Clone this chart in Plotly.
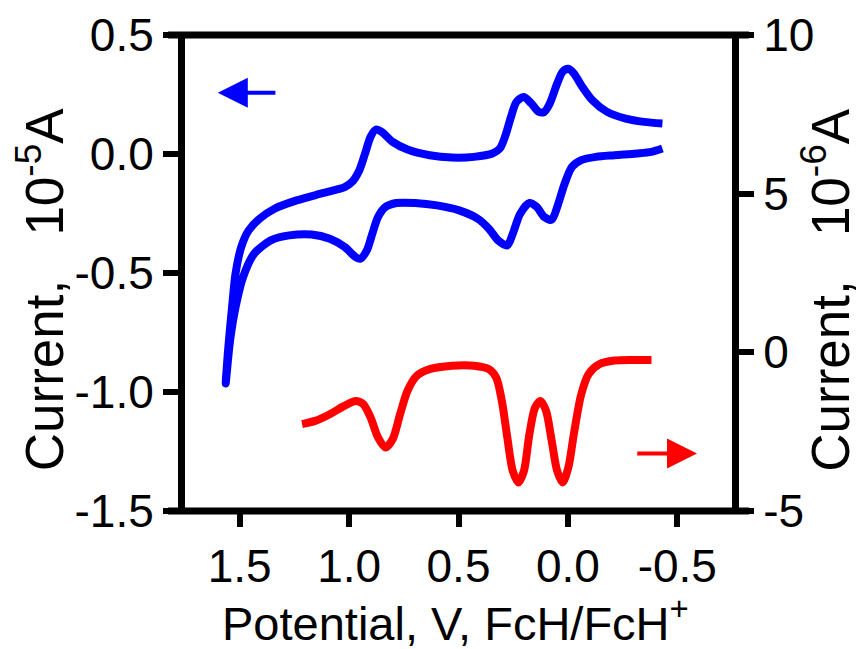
import plotly.graph_objects as go

# Blue cyclic voltammogram (left axis, 10^-5 A)
cv_potential = [-0.432, -0.348, -0.264, -0.179, -0.112, -0.061, -0.027, -0.002, 0.024, 0.049,
                0.083, 0.108, 0.133, 0.167, 0.201, 0.235, 0.260, 0.285, 0.311, 0.345,
                0.429, 0.530, 0.632, 0.733, 0.801, 0.851, 0.877, 0.902, 0.927, 0.953,
                0.987, 1.020, 1.071, 1.139, 1.240, 1.341, 1.409, 1.459, 1.493, 1.519,
                1.535, 1.552, 1.564,
                1.544, 1.519, 1.485, 1.434, 1.358, 1.274, 1.172, 1.088, 1.020, 0.970,
                0.949, 0.919, 0.894, 0.868, 0.834, 0.784, 0.699, 0.598, 0.497, 0.412,
                0.361, 0.319, 0.277, 0.252, 0.218, 0.176, 0.142, 0.108, 0.074, 0.049,
                0.015, -0.019, -0.061, -0.128, -0.213, -0.314, -0.382, -0.432]
cv_current = [0.128, 0.135, 0.149, 0.177, 0.226, 0.289, 0.339, 0.358, 0.346, 0.296,
              0.212, 0.177, 0.177, 0.212, 0.240, 0.219, 0.156, 0.079, 0.023, 0.002,
              -0.012, -0.015, -0.005, 0.019, 0.051, 0.093, 0.103, 0.072, 0.002, -0.068,
              -0.118, -0.139, -0.153, -0.169, -0.195, -0.230, -0.272, -0.321, -0.391, -0.503,
              -0.644, -0.812, -0.964,
              -0.784, -0.644, -0.518, -0.419, -0.363, -0.342, -0.338, -0.356, -0.391, -0.433,
              -0.440, -0.405, -0.335, -0.265, -0.223, -0.206, -0.206, -0.216, -0.237, -0.272,
              -0.314, -0.363, -0.384, -0.335, -0.251, -0.206, -0.223, -0.265, -0.276, -0.223,
              -0.125, -0.054, -0.026, -0.012, -0.005, 0.002, 0.009, 0.023]

# Red differential pulse voltammogram (right axis, 10^-6 A)
dpv_potential = [1.215, 1.155, 1.088, 1.020, 0.970, 0.936, 0.902, 0.868, 0.834, 0.801,
                 0.767, 0.733, 0.691, 0.632, 0.530, 0.429, 0.361, 0.328, 0.302, 0.277,
                 0.252, 0.226, 0.201, 0.176, 0.150, 0.125, 0.100, 0.074, 0.049, 0.024,
                 -0.002, -0.027, -0.061, -0.095, -0.145, -0.213, -0.297, -0.382]
dpv_current = [-2.26, -2.16, -1.95, -1.68, -1.53, -1.63, -2.05, -2.68, -3.00, -2.74,
               -1.95, -1.21, -0.74, -0.53, -0.42, -0.42, -0.53, -0.79, -1.53, -2.68,
               -3.74, -4.10, -3.74, -2.58, -1.74, -1.53, -1.84, -2.79, -3.74, -4.10,
               -3.63, -2.58, -1.32, -0.68, -0.37, -0.26, -0.24, -0.24]

x_ticks = [1.5, 1.0, 0.5, 0.0, -0.5]
x_tick_text = ["1.5", "1.0", "0.5", "0.0", "-0.5"]
y_left_ticks = [0.5, 0.0, -0.5, -1.0, -1.5]
y_left_text = ["0.5", "0.0", "-0.5", "-1.0", "-1.5"]
y_right_ticks = [10, 5, 0, -5]
y_right_text = ["10", "5", "0", "-5"]

x_range = [1.75, -0.75]
y_left_range = [-1.5, 0.5]
y_right_range = [-5, 10]

x_title = "Potential, V, FcH/FcH<sup>+</sup>"
y_left_title = "Current,   10<sup>-5</sup>A"
y_right_title = "Current,   10<sup>-6</sup>A"

FONT = "Arial, Liberation Sans, Helvetica, sans-serif"
TICK_SIZE = 46
X_TITLE_SIZE = 47
Y_TITLE_SIZE = 53

fig = go.Figure()
fig.add_trace(go.Scatter(x=cv_potential, y=cv_current, mode="lines",
                         line=dict(color="#0000FF", width=8, shape="spline", smoothing=0.8),
                         yaxis="y", showlegend=False))
fig.add_trace(go.Scatter(x=dpv_potential, y=dpv_current, mode="lines",
                         line=dict(color="#FF0000", width=8, shape="spline", smoothing=0.8),
                         yaxis="y2", showlegend=False))

axis_common = dict(showgrid=False, zeroline=False, ticks="outside", ticklen=15,
                   tickwidth=6, tickcolor="black", linecolor="black", linewidth=7,
                   automargin=False,
                   tickfont=dict(family=FONT, size=TICK_SIZE, color="black"))

fig.update_layout(
    width=861, height=649,
    margin=dict(l=185, r=129, t=35, b=138),
    paper_bgcolor="white", plot_bgcolor="white",
    xaxis=dict(range=x_range, tickvals=x_ticks, ticktext=x_tick_text, showline=False,
               **axis_common),
    yaxis=dict(range=y_left_range, tickvals=y_left_ticks, ticktext=y_left_text, showline=True,
               **axis_common),
    yaxis2=dict(range=y_right_range, tickvals=y_right_ticks, ticktext=y_right_text,
                overlaying="y", side="right", showline=True,
                **axis_common),
)

fig.add_annotation(text=x_title, xref="paper", yref="paper", x=0.495, y=-0.228,
                   xanchor="center", yanchor="middle", showarrow=False,
                   font=dict(family=FONT, size=X_TITLE_SIZE, color="black"))
fig.add_annotation(text=y_left_title, xref="paper", yref="paper", x=-0.264, y=0.465,
                   xanchor="center", yanchor="middle", showarrow=False,
                   font=dict(family=FONT, size=Y_TITLE_SIZE, color="black"), textangle=-90)
fig.add_annotation(text=y_right_title, xref="paper", yref="paper", x=1.172, y=0.465,
                   xanchor="center", yanchor="middle", showarrow=False,
                   font=dict(family=FONT, size=Y_TITLE_SIZE, color="black"), textangle=-90)

# frame top/bottom lines extending slightly beyond the vertical axes
for yy in (0, 1):
    fig.add_shape(type="line", xref="paper", yref="paper", x0=-0.031, x1=1.031, y0=yy, y1=yy,
                  line=dict(color="black", width=7), layer="above")

# direction arrows
blue_arrow = dict(head=1.60, tail=1.33, level=0.257)
red_arrow = dict(head=-0.59, tail=-0.31, level=-3.19)
fig.add_annotation(x=blue_arrow["head"], y=blue_arrow["level"], ax=blue_arrow["tail"],
                   ay=blue_arrow["level"], xref="x", yref="y", axref="x", ayref="y",
                   showarrow=True, arrowhead=2, arrowsize=1.5, arrowwidth=4,
                   arrowcolor="#0000FF", text="")
fig.add_annotation(x=red_arrow["head"], y=red_arrow["level"], ax=red_arrow["tail"],
                   ay=red_arrow["level"], xref="x", yref="y2", axref="x", ayref="y2",
                   showarrow=True, arrowhead=2, arrowsize=1.5, arrowwidth=4,
                   arrowcolor="#FF0000", text="")

fig.write_html("out.html", config={"displayModeBar": False},
               post_script="document.body.style.margin='0px';document.body.style.overflow='hidden';")
